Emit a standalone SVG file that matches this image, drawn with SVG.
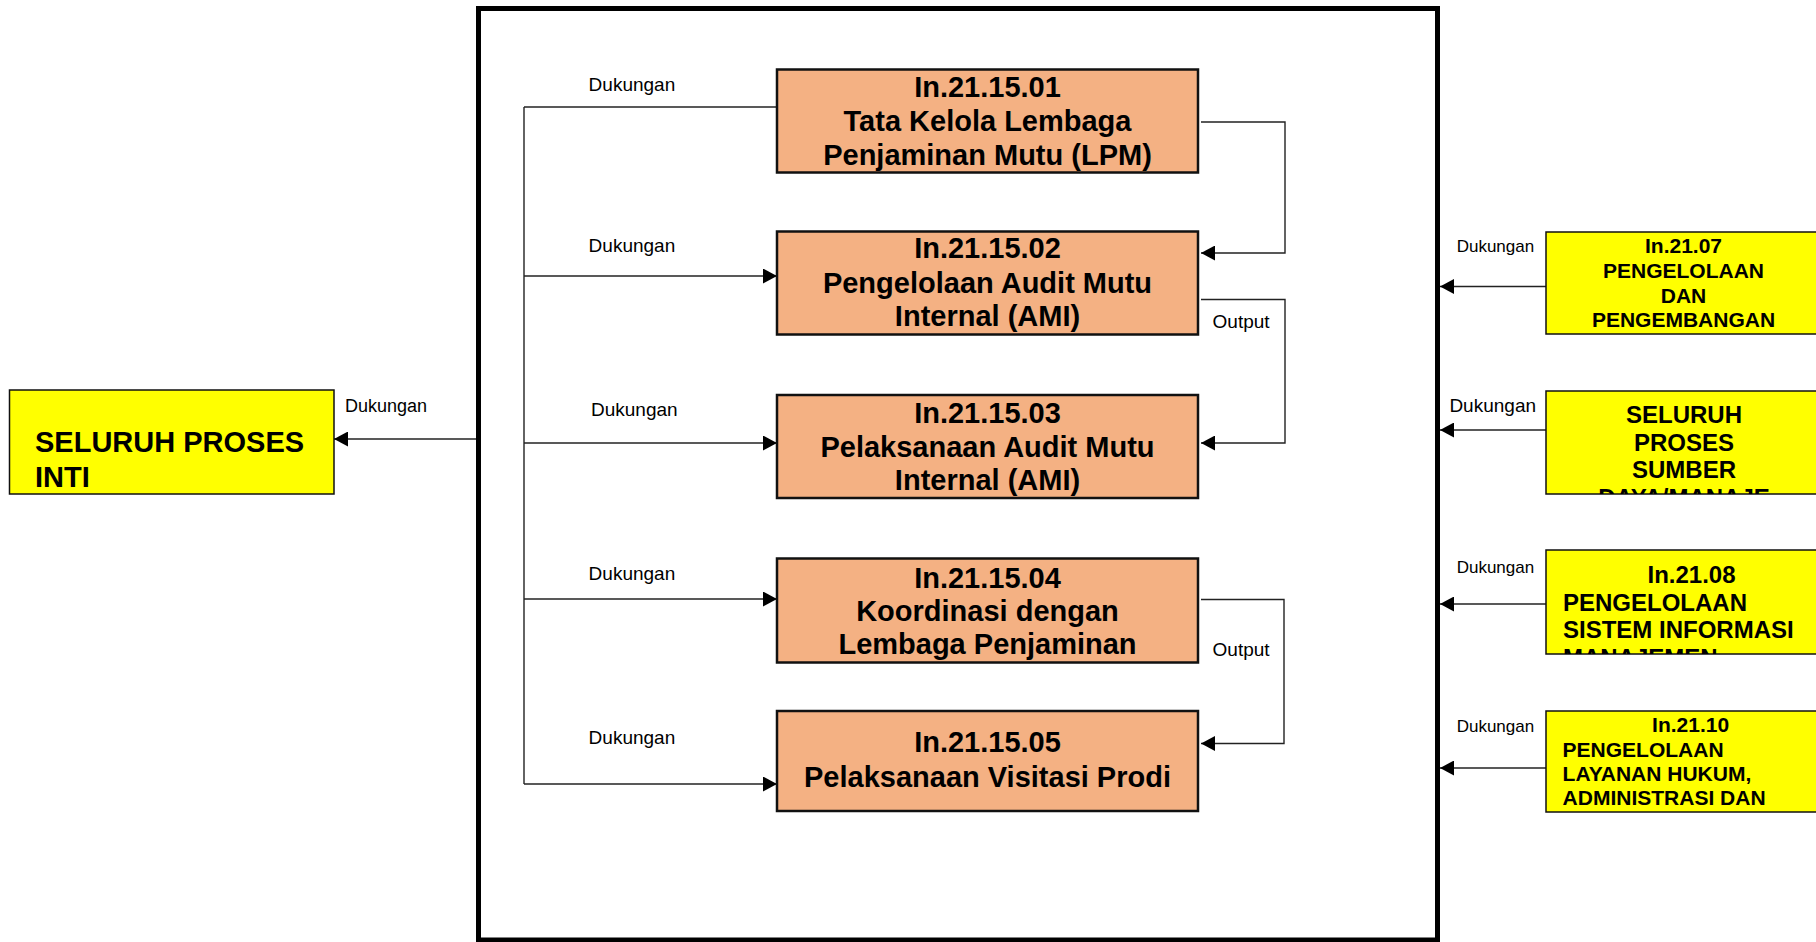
<svg xmlns="http://www.w3.org/2000/svg" width="1816" height="942" viewBox="0 0 1816 942">
  <style>
    .proc { fill: #F4B183; stroke: #111; stroke-width: 2.5; }
    .ext { fill: #FFFF00; stroke: #111; stroke-width: 1.5; }
    .ptxt { font-family: "Liberation Sans", Arial, sans-serif; font-weight: bold; font-size: 29px; fill: #000; text-anchor: middle; }
    .etxt { font-family: "Liberation Sans", Arial, sans-serif; font-weight: bold; fill: #000; }
    .lbl { font-family: "Liberation Sans", Arial, sans-serif; font-size: 19px; fill: #000; }
    .wire { fill: none; stroke: #222; stroke-width: 1.4; }
  </style>
  <defs>
    <marker id="arrow" markerUnits="userSpaceOnUse" markerWidth="14" markerHeight="15" refX="14" refY="7.5" orient="auto">
      <path d="M0,0 L14,7.5 L0,15 Z" fill="#000"/>
    </marker>
    <clipPath id="clip-e1"><rect x="1546" y="232" width="280" height="102"/></clipPath>
    <clipPath id="clip-e2"><rect x="1546" y="391" width="280" height="103"/></clipPath>
    <clipPath id="clip-e3"><rect x="1546" y="550" width="280" height="104"/></clipPath>
    <clipPath id="clip-e4"><rect x="1546" y="711" width="280" height="101"/></clipPath>
  </defs>

  <rect width="1816" height="942" fill="#fff"/>

  <!-- process boundary -->
  <rect id="boundary" x="478.5" y="8.5" width="959" height="931.5" fill="none" stroke="#000" stroke-width="5"/>

  <!-- connectors -->
  <g id="connectors">
    <path class="wire" d="M524,107 V784"/>
    <path class="wire" d="M524,107 H777"/>
    <path class="wire" d="M524,276 H777" marker-end="url(#arrow)"/>
    <path class="wire" d="M524,443 H777" marker-end="url(#arrow)"/>
    <path class="wire" d="M524,599 H777" marker-end="url(#arrow)"/>
    <path class="wire" d="M524,784 H777" marker-end="url(#arrow)"/>

    <path class="wire" d="M1201,122 H1285 V253 H1201" marker-end="url(#arrow)"/>
    <path class="wire" d="M1201,299.5 H1285 V443 H1201" marker-end="url(#arrow)"/>
    <path class="wire" d="M1201,599.5 H1284 V743.5 H1201" marker-end="url(#arrow)"/>

    <path class="wire" d="M476,439 H334" marker-end="url(#arrow)"/>

    <path class="wire" d="M1546,286.5 H1440" marker-end="url(#arrow)"/>
    <path class="wire" d="M1546,430 H1440" marker-end="url(#arrow)"/>
    <path class="wire" d="M1546,604 H1440" marker-end="url(#arrow)"/>
    <path class="wire" d="M1546,768 H1440" marker-end="url(#arrow)"/>

    <text class="lbl" x="588.6" y="90.7">Dukungan</text>
    <text class="lbl" x="588.6" y="251.7">Dukungan</text>
    <text class="lbl" x="591" y="416">Dukungan</text>
    <text class="lbl" x="588.6" y="580">Dukungan</text>
    <text class="lbl" x="588.6" y="744">Dukungan</text>
    <text class="lbl" x="1212.6" y="328">Output</text>
    <text class="lbl" x="1212.6" y="656">Output</text>
    <text class="lbl" x="345" y="411.7" style="font-size:18px">Dukungan</text>
    <text class="lbl" x="1456.7" y="251.7" style="font-size:17px">Dukungan</text>
    <text class="lbl" x="1449.4" y="411.7">Dukungan</text>
    <text class="lbl" x="1456.7" y="572.7" style="font-size:17px">Dukungan</text>
    <text class="lbl" x="1456.7" y="731.7" style="font-size:17px">Dukungan</text>
  </g>

  <!-- internal processes -->
  <g id="p01">
    <rect class="proc" x="777" y="69.5" width="421" height="103"/>
    <text class="ptxt" x="987.5" y="97">In.21.15.01</text>
    <text class="ptxt" x="987.5" y="131">Tata Kelola Lembaga</text>
    <text class="ptxt" x="987.5" y="165">Penjaminan Mutu (LPM)</text>
  </g>
  <g id="p02">
    <rect class="proc" x="777" y="231.5" width="421" height="103"/>
    <text class="ptxt" x="987.5" y="258">In.21.15.02</text>
    <text class="ptxt" x="987.5" y="292.5">Pengelolaan Audit Mutu</text>
    <text class="ptxt" x="987.5" y="326">Internal (AMI)</text>
  </g>
  <g id="p03">
    <rect class="proc" x="777" y="395" width="421" height="103"/>
    <text class="ptxt" x="987.5" y="423">In.21.15.03</text>
    <text class="ptxt" x="987.5" y="456.5">Pelaksanaan Audit Mutu</text>
    <text class="ptxt" x="987.5" y="490">Internal (AMI)</text>
  </g>
  <g id="p04">
    <rect class="proc" x="777" y="558.5" width="421" height="104"/>
    <text class="ptxt" x="987.5" y="587.5">In.21.15.04</text>
    <text class="ptxt" x="987.5" y="621">Koordinasi dengan</text>
    <text class="ptxt" x="987.5" y="654">Lembaga Penjaminan</text>
  </g>
  <g id="p05">
    <rect class="proc" x="777" y="711" width="421" height="100"/>
    <text class="ptxt" x="987.5" y="752">In.21.15.05</text>
    <text class="ptxt" x="987.5" y="786.5">Pelaksanaan Visitasi Prodi</text>
  </g>

  <!-- external: core processes -->
  <g id="core">
    <rect class="ext" x="9.5" y="390" width="324.5" height="104"/>
    <text class="etxt" x="35" y="451.7" style="font-size:29px">SELURUH PROSES</text>
    <text class="etxt" x="35" y="486.7" style="font-size:29px">INTI</text>
  </g>

  <!-- external: supporting processes -->
  <g id="in2107">
    <rect class="ext" x="1546" y="232" width="280" height="102"/>
    <g clip-path="url(#clip-e1)" style="font-size:21px" text-anchor="middle">
      <text class="etxt" x="1683.5" y="253.3">In.21.07</text>
      <text class="etxt" x="1683.5" y="278">PENGELOLAAN</text>
      <text class="etxt" x="1683.5" y="302.5">DAN</text>
      <text class="etxt" x="1683.5" y="326.7">PENGEMBANGAN</text>
    </g>
  </g>
  <g id="sdm">
    <rect class="ext" x="1546" y="391" width="280" height="103"/>
    <g clip-path="url(#clip-e2)" style="font-size:24px" text-anchor="middle">
      <text class="etxt" x="1684" y="423.3">SELURUH</text>
      <text class="etxt" x="1684" y="450.7">PROSES</text>
      <text class="etxt" x="1684" y="478.3">SUMBER</text>
      <text class="etxt" x="1684" y="506">DAYA/MANAJE</text>
    </g>
  </g>
  <g id="in2108">
    <rect class="ext" x="1546" y="550" width="280" height="104"/>
    <g clip-path="url(#clip-e3)" style="font-size:24px">
      <text class="etxt" x="1691.5" y="583.3" text-anchor="middle">In.21.08</text>
      <text class="etxt" x="1563" y="610.7">PENGELOLAAN</text>
      <text class="etxt" x="1563" y="638.3">SISTEM INFORMASI</text>
      <text class="etxt" x="1563" y="666">MANAJEMEN</text>
    </g>
  </g>
  <g id="in2110">
    <rect class="ext" x="1546" y="711" width="280" height="101"/>
    <g clip-path="url(#clip-e4)" style="font-size:21px">
      <text class="etxt" x="1690.6" y="731.7" text-anchor="middle">In.21.10</text>
      <text class="etxt" x="1562.6" y="756.7">PENGELOLAAN</text>
      <text class="etxt" x="1562.6" y="781">LAYANAN HUKUM,</text>
      <text class="etxt" x="1562.6" y="805">ADMINISTRASI DAN</text>
    </g>
  </g>
</svg>
